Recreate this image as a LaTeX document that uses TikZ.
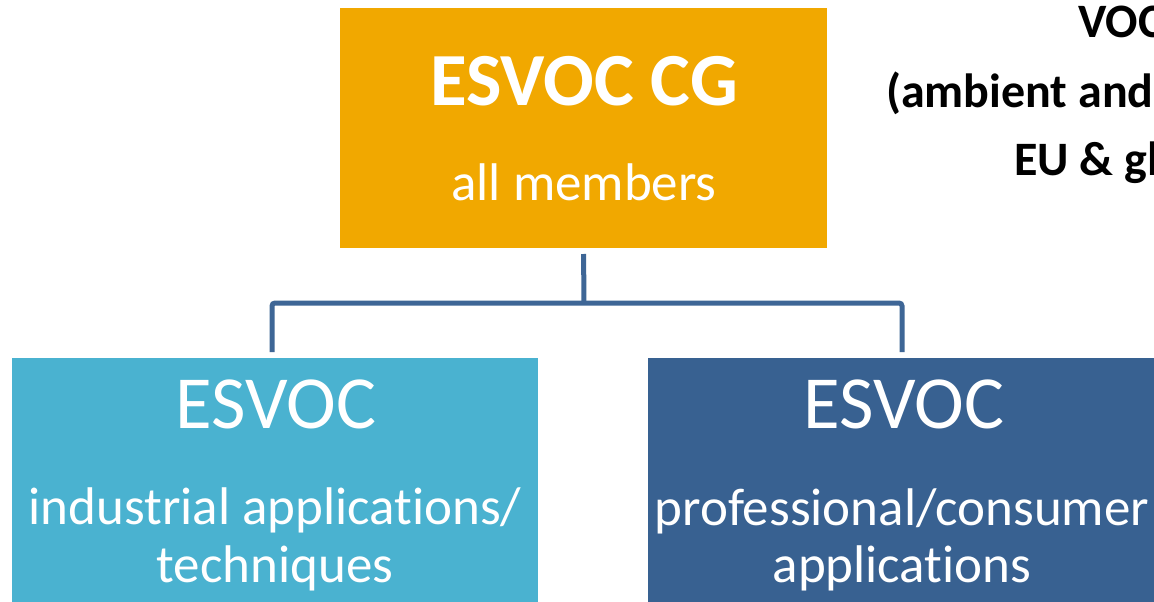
\documentclass[tikz,border=0pt]{standalone}
\usepackage{fontspec}
\setmainfont{Carlito}[Ligatures=NoCommon]
\definecolor{cgorange}{RGB}{241,168,0}
\definecolor{indblue}{RGB}{74,178,208}
\definecolor{prodblue}{RGB}{56,97,145}
\definecolor{connblue}{RGB}{62,102,150}
\tikzset{
  boxnode/.style={rectangle, inner sep=0pt, outer sep=0pt},
  headtxt/.style={anchor=base, text=white, inner sep=0pt, font=\fontsize{75}{75}\selectfont},
  subtxt/.style={anchor=base, text=white, inner sep=0pt, font=\fontsize{53}{53}\selectfont},
  notetxt/.style={anchor=base west, text=black, inner sep=0pt, font=\fontsize{48}{48}\selectfont\bfseries},
  conn/.style={draw=connblue, line width=5pt, rounded corners=3pt}
}
\begin{document}
\begin{tikzpicture}[x=1pt,y=-1pt]
\useasboundingbox (0,0) rectangle (1154,602);
\clip (0,0) rectangle (1154,602);
\fill[white] (0,0) rectangle (1154,602);
% boxes
\node[boxnode, fill=cgorange, minimum width=487pt, minimum height=240pt] (cg) at (583.5,128) {};
\node[boxnode, fill=indblue, minimum width=526pt, minimum height=260pt] (ind) at (275,488) {};
\node[boxnode, fill=prodblue, minimum width=508pt, minimum height=260pt] (prof) at (902,488) {};
% texts
\node[headtxt, font=\fontsize{75}{75}\selectfont\bfseries] (cgt) at (584,105) {ESVOC CG};
\node[subtxt] (cgs) at (584,200) {all members};
\node[headtxt] (indt) at (276,428) {ESVOC};
\node[subtxt] (inds1) at (275,524) {industrial applications/};
\node[subtxt] (inds2) at (275,582) {techniques};
\node[headtxt] (proft) at (904,428) {ESVOC};
\node[subtxt] (profs1) at (902,525) {professional/consumer};
\node[subtxt] (profs2) at (902,582) {applications};
% note at top right (cut by the frame, as in the reference)
\node[notetxt] (n1) at (1078,38) {VOC};
\node[notetxt] (n2) at (886,107) {(ambient and};
\node[notetxt] (n3) at (1014,175) {EU \& gl};
% connectors
\coordinate (hbar) at (584,303);
\draw[conn, shorten <=6pt] (cg.south) -- (hbar);
\draw[conn, shorten <=6pt, shorten >=6pt] ([xshift=-3pt]ind.north) |- (prof.north |- hbar) -- (prof.north);
\end{tikzpicture}
\end{document}
